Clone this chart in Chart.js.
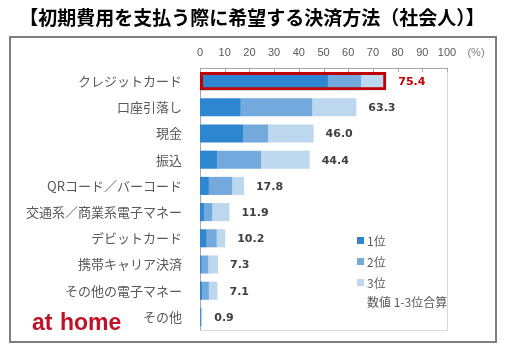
<!DOCTYPE html>
<html>
<head>
<meta charset="utf-8">
<script src="https://cdn.jsdelivr.net/npm/chart.js@4.4.1/dist/chart.umd.min.js"></script>
<style>
html, body { margin: 0; padding: 0; background: #fff; }
</style>
</head>
<body>
<canvas id="chart" width="505" height="353"></canvas>
<script>
// データ（1-3位の内訳と合算値）
const categories = ["クレジットカード", "口座引落し", "現金", "振込", "QRコード／バーコード",
    "交通系／商業系電子マネー", "デビットカード", "携帯キャリア決済", "その他の電子マネー", "その他"];
const rank1 = [51.8, 16.5, 17.6, 7.0, 3.6, 1.6, 2.7, 0.7, 1.0, 0.3];
const rank2 = [13.5, 29.0, 10.0, 17.7, 9.5, 3.4, 4.1, 2.7, 2.6, 0.2];
const rank3 = [10.1, 17.8, 18.4, 19.7, 4.7, 6.9, 3.4, 3.9, 3.5, 0.4];
const totals = [75.4, 63.3, 46.0, 44.4, 17.8, 11.9, 10.2, 7.3, 7.1, 0.9];
const xTicks = [0, 10, 20, 30, 40, 50, 60, 70, 80, 90, 100];
const seriesNames = ["1位", "2位", "3位"];
const seriesColors = ["#2E86D0", "#74A9DE", "#BDD7EE"];

const jpFont = "'Noto Sans CJK JP', sans-serif";

// 枠・目盛り・数値ラベル・凡例を描くプラグイン
const decoPlugin = {
    id: "deco",
    beforeDatasetsDraw(chart) {
        const ctx = chart.ctx;
        const a = chart.chartArea;
        const xs = chart.scales.x;
        ctx.save();
        // 外枠
        ctx.strokeStyle = "#7F7F7F";
        ctx.lineWidth = 2;
        ctx.strokeRect(10, 37, 486, 305);
        // タイトル
        ctx.fillStyle = "#000";
        ctx.font = "bold 19px " + jpFont;
        ctx.textAlign = "center";
        ctx.textBaseline = "middle";
        ctx.fillText("【初期費用を支払う際に希望する決済方法（社会人）】", 252, 18);
        // プロット枠
        ctx.strokeStyle = "#D9D9D9";
        ctx.lineWidth = 1;
        ctx.strokeRect(a.left + 0.5, a.top + 0.5, a.right - a.left, a.bottom - a.top);
        ctx.strokeStyle = "#A6A6A6";
        ctx.beginPath();
        ctx.moveTo(a.left + 0.5, a.top);
        ctx.lineTo(a.left + 0.5, a.bottom);
        ctx.moveTo(a.left, a.top + 0.5);
        ctx.lineTo(a.right, a.top + 0.5);
        xTicks.forEach(function (v) {
            const px = Math.round(xs.getPixelForValue(v)) + 0.5;
            ctx.moveTo(px, a.top);
            ctx.lineTo(px, a.top + 4);
        });
        ctx.stroke();
        ctx.restore();
    },
    afterDatasetsDraw(chart) {
        const ctx = chart.ctx;
        const xs = chart.scales.x;
        const ys = chart.scales.y;
        ctx.save();
        // 合算値
        ctx.font = "bold 11px 'DejaVu Sans', sans-serif";
        ctx.textAlign = "left";
        ctx.textBaseline = "middle";
        totals.forEach(function (v, i) {
            ctx.fillStyle = i === 0 ? "#C00000" : "#404040";
            ctx.fillText(v.toFixed(1), xs.getPixelForValue(v) + 12, ys.getPixelForValue(i) + 1);
        });
        // (%)
        ctx.fillStyle = "#7F7F7F";
        ctx.font = "11px 'Liberation Sans', sans-serif";
        ctx.textAlign = "center";
        ctx.fillText("(%)", 476, 53);
        // 凡例
        ctx.font = "12px " + jpFont;
        ctx.textAlign = "left";
        for (let k = 0; k < 3; k++) {
            const ds = chart.data.datasets[k];
            const y = 241 + k * 21;
            ctx.fillStyle = ds.backgroundColor;
            ctx.fillRect(357, y - 4, 7, 7);
            ctx.fillStyle = "#595959";
            ctx.fillText(ds.label, 367, y);
        }
        ctx.fillText("数値 1-3位合算", 367, 302);
        // ロゴ
        ctx.fillStyle = "#C0102A";
        ctx.font = "bold 23px 'Liberation Sans', sans-serif";
        ctx.textBaseline = "alphabetic";
        ctx.fillText("at", 32, 330);
        ctx.fillText("home", 60, 330);
        ctx.restore();
    }
};

const datasets = [rank1, rank2, rank3].map(function (arr, k) {
    return {
        label: seriesNames[k],
        data: arr,
        backgroundColor: seriesColors[k],
        stack: "rank",
        barPercentage: 0.69,
        categoryPercentage: 1.0
    };
});
// クレジットカードの赤枠（最前面に描く）
datasets.push({
    label: "outline",
    data: totals.map(function (v, i) { return i === 0 ? v : null; }),
    backgroundColor: "rgba(0,0,0,0)",
    borderColor: "#C00000",
    borderWidth: 3,
    borderSkipped: false,
    stack: "outline",
    grouped: false,
    order: -1,
    barPercentage: 0.69,
    categoryPercentage: 1.0
});

new Chart(document.getElementById("chart"), {
    type: "bar",
    data: { labels: categories, datasets: datasets },
    options: {
        indexAxis: "y",
        responsive: false,
        animation: false,
        devicePixelRatio: 1,
        layout: { padding: { left: 10, right: 58, top: 40, bottom: 23 } },
        plugins: { legend: { display: false }, tooltip: { enabled: false } },
        scales: {
            x: {
                position: "top",
                stacked: true,
                min: 0,
                max: 100,
                grid: { display: false },
                border: { display: false },
                ticks: {
                    stepSize: 10,
                    color: "#595959",
                    font: { family: "'Liberation Sans', sans-serif", size: 11 },
                    padding: 0,
                    maxRotation: 0
                },
                afterFit: function (s) { s.height = 28; }
            },
            y: {
                stacked: true,
                grid: { display: false },
                border: { display: false },
                ticks: {
                    color: "#595959",
                    font: { family: jpFont, size: 13 },
                    padding: 10
                },
                afterFit: function (s) { s.width = 190; }
            }
        }
    },
    plugins: [decoPlugin]
});
</script>
</body>
</html>
